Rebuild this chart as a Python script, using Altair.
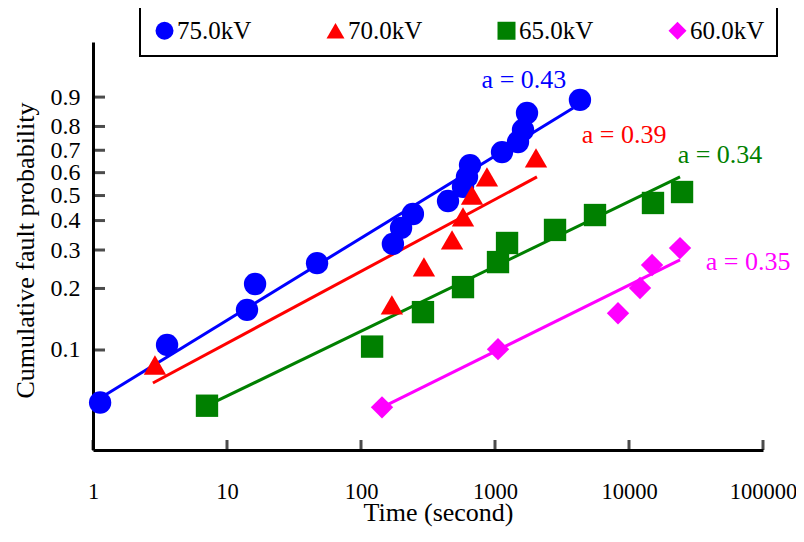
import math
import altair as alt
import pandas as pd

FONT = "Liberation Serif"

series_names = ["75.0kV", "70.0kV", "65.0kV", "60.0kV"]
series_colors = ["#0000FF", "#FF0000", "#008000", "#FF00FF"]
series_shapes = ["circle", "triangle-up", "square", "diamond"]

# measured points: time (s) and cumulative fault probability
t75 = [1.13, 3.57, 14.1, 16.2, 47, 173, 199, 244, 446, 577, 618, 651, 1128, 1485, 1618, 1733, 4305]
p75 = [0.054, 0.106, 0.158, 0.210, 0.262, 0.319, 0.373, 0.425, 0.477, 0.537, 0.581, 0.634, 0.692, 0.736, 0.786, 0.850, 0.892]
t70 = [2.90, 170, 295, 478, 577, 674, 871, 2023]
p70 = [0.084, 0.167, 0.252, 0.332, 0.414, 0.502, 0.581, 0.666]
t65 = [7.09, 121, 290, 577, 1053, 1230, 2805, 5575, 15100, 24880]
p65 = [0.052, 0.104, 0.154, 0.203, 0.265, 0.322, 0.366, 0.421, 0.469, 0.515]
t60 = [143.5, 1053, 8280, 12080, 14860, 24030]
p60 = [0.051, 0.101, 0.152, 0.201, 0.257, 0.306]

# fitted Weibull lines: end points (time, probability)
fit_t = {"75.0kV": [1.0, 3830], "70.0kV": [2.80, 2057], "65.0kV": [7.09, 24030], "60.0kV": [143.5, 24030]}
fit_p = {"75.0kV": [0.054, 0.867], "70.0kV": [0.068, 0.581], "65.0kV": [0.052, 0.581], "60.0kV": [0.051, 0.271]}

# shape parameter annotations
ann_text = ["a = 0.43", "a = 0.39", "a = 0.34", "a = 0.35"]
ann_t = [1645, 9180, 47760, 77300]
ann_p = [0.941, 0.765, 0.679, 0.265]

x_ticks = [1, 10, 100, 1000, 10000, 100000]
y_tick_probs = [0.1, 0.2, 0.3, 0.4, 0.5, 0.6, 0.7, 0.8, 0.9]
y_ticks = [math.log(-math.log(1 - p)) for p in y_tick_probs]

rows = []
for name, ts, ps in zip(series_names, [t75, t70, t65, t60], [p75, p70, p65, p60]):
    for t, p in zip(ts, ps):
        rows.append({"series": name, "time": t, "p": p})
pts = pd.DataFrame(rows)

ann = pd.DataFrame({"series": series_names, "label": ann_text, "time": ann_t, "p": ann_p})
xt = pd.DataFrame({"v": x_ticks})
yt = pd.DataFrame({"v": y_ticks})

W, H = 670, 408
xscale = alt.Scale(type="log", domain=[1, 100000], nice=False)
yscale = alt.Scale(domain=[-3.47, 1.506], nice=False, zero=False)
weib = "log(-log(1 - datum.p))"

x_axis = alt.Axis(
    orient="bottom", values=x_ticks, format="d", ticks=False, grid=False,
    domainColor="black", domainWidth=3, labelFontSize=22.5, labelFont=FONT,
    labelColor="black", labelPadding=30, labelFlush=False, labelOverlap=False,
    title="Time (second)", titleFont=FONT, titleFontSize=26, titleFontWeight="normal",
    titleColor="black", titleX=345, titleY=70, titleBaseline="alphabetic")
y_axis = alt.Axis(
    orient="left", values=y_ticks, labelExpr="format(1 - exp(-exp(datum.value)), '.1f')",
    ticks=False, grid=False, domainColor="black", domainWidth=3,
    labelFontSize=24, labelFont=FONT, labelColor="black", labelPadding=13,
    labelOverlap=False, labelFlush=False,
    title="Cumulative fault probability", titleFont=FONT, titleFontSize=26,
    titleFontWeight="normal", titleColor="black", titleAngle=270,
    titleX=-60, titleY=208, titleBaseline="alphabetic", titleAlign="center")

X = lambda f: alt.X(f, scale=xscale, axis=x_axis)
Y = lambda f: alt.Y(f, scale=yscale, axis=y_axis)

line_layers = [
    alt.Chart(pd.DataFrame({"time": fit_t[name], "p": fit_p[name]}))
    .transform_calculate(w=weib)
    .mark_line(strokeWidth=3, color=col)
    .encode(x=X("time:Q"), y=Y("w:Q"))
    for name, col in zip(series_names, series_colors)
]

point_layer = alt.Chart(pts).transform_calculate(w=weib).mark_point(filled=True, size=500, opacity=1).encode(
    x=X("time:Q"), y=Y("w:Q"),
    color=alt.Color("series:N", scale=alt.Scale(domain=series_names, range=series_colors),
                    legend=alt.Legend(
                        orient="none", legendX=47, legendY=-36, direction="horizontal",
                        columns=4, title=None, labelFont=FONT, labelFontSize=25,
                        labelColor="black", symbolSize=324, symbolStrokeWidth=0,
                        strokeColor="black", padding=12, columnPadding=71,
                        labelOffset=0)),
    shape=alt.Shape("series:N", scale=alt.Scale(domain=series_names, range=series_shapes)),
)

text_layers = [
    alt.Chart(ann[ann["series"] == name]).transform_calculate(w=weib).mark_text(
        font=FONT, fontSize=26, align="center", baseline="middle", color=col).encode(
        x=X("time:Q"), y=Y("w:Q"), text="label:N")
    for name, col in zip(series_names, series_colors)
]

# inward tick marks drawn at the axis tick values
xtick_layer = alt.Chart(xt).mark_tick(color="black", thickness=3, size=10).encode(
    x=X("v:Q"), y=alt.value(H - 5))
ytick_layer = alt.Chart(yt).mark_tick(color="black", thickness=3, size=12).encode(
    y=Y("v:Q"), x=alt.value(6))

chart = alt.layer(*line_layers, xtick_layer, ytick_layer, point_layer, *text_layers).properties(
    width=W, height=H,
    autosize=alt.AutoSizeParams(type="none"),
    padding={"left": 85, "top": 34, "right": 33, "bottom": 84},
).configure_view(stroke=None).configure_legend(strokeWidth=2)

chart.save("out.html", embed_options={"renderer": "svg", "actions": False})
